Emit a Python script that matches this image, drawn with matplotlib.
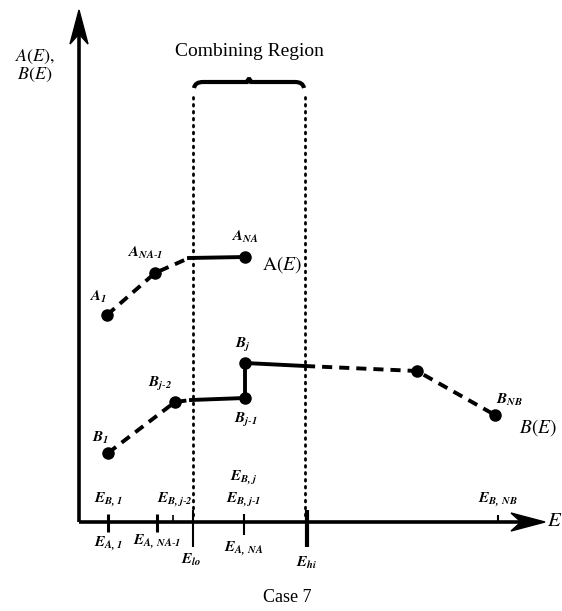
import numpy as np
import matplotlib.pyplot as plt
from matplotlib.path import Path
from matplotlib.patches import PathPatch

plt.rcParams['font.family'] = ['Liberation Serif', 'DejaVu Serif']
plt.rcParams['mathtext.fontset'] = 'stix'

# diagram points, in picture units (x right, y down)
a_dash_x = [107, 155, 189]
a_dash_y = [315, 273, 258]
a_solid_x = [189, 245]
a_solid_y = [258, 257]

b_dash1_x = [108, 175, 191]
b_dash1_y = [453, 402, 400]
b_solid_x = [191, 245, 245, 305]
b_solid_y = [400, 398, 363, 366]
b_dash2_x = [305, 417, 495]
b_dash2_y = [366, 371, 415]

dot_x = [107, 155, 245, 108, 175, 245, 245, 417, 495]
dot_y = [315, 273, 257, 453, 402, 398, 363, 371, 415]

# point labels: text, x, y
point_labels = [
    (r'$\mathbfit{A_{1}}$', 98, 297),
    (r'$\mathbfit{A_{NA\text{-}1}}$', 145, 253),
    (r'$\mathbfit{A_{NA}}$', 245, 237),
    (r'$\mathbfit{B_{1}}$', 101, 438),
    (r'$\mathbfit{B_{j\text{-}2}}$', 160, 384),
    (r'$\mathbfit{B_{j\text{-}1}}$', 246, 420),
    (r'$\mathbfit{B_{j}}$', 243, 345),
    (r'$\mathbfit{B_{NB}}$', 510, 400),
]

# axis ticks: x, top, bottom, width
tick_x = [108, 157, 173, 193, 244, 307, 498]
tick_top = [514, 514, 515, 510, 514, 510, 515]
tick_bot = [532, 532, 522, 547, 535, 547, 522]
tick_w = [2.2, 2.2, 1.2, 1.5, 1.5, 3.0, 1.5]

tick_labels = [
    (r'$\mathbfit{E_{B,1}}$', 108, 500),
    (r'$\mathbfit{E_{A,1}}$', 108, 544),
    (r'$\mathbfit{E_{B,j\text{-}2}}$', 175, 500),
    (r'$\mathbfit{E_{A,\,NA\text{-}1}}$', 157, 542),
    (r'$\mathbfit{E_{lo}}$', 191, 560),
    (r'$\mathbfit{E_{B,j}}$', 244, 478),
    (r'$\mathbfit{E_{B,j\text{-}1}}$', 244, 500),
    (r'$\mathbfit{E_{A,\,NA}}$', 244, 549),
    (r'$\mathbfit{E_{hi}}$', 307, 563),
    (r'$\mathbfit{E_{B,\,NB}}$', 498, 500),
]

region_x = [193, 305]

fig = plt.figure(figsize=(5.62, 6.11), dpi=100)
ax = fig.add_axes([0, 0, 1, 1])
ax.set_xlim(0, 562)
ax.set_ylim(611, 0)
ax.axis('off')

# axes with arrows
ax.plot([79, 79], [522, 30], color='black', lw=2.6, solid_capstyle='butt')
ax.plot([79, 525], [522, 522], color='black', lw=2.6, solid_capstyle='butt')
ax.fill([79, 70, 79, 88], [10, 44, 34, 44], color='black')
ax.fill([545, 511, 521, 511], [522, 513, 522, 531], color='black')
ax.text(547, 522, r'$\mathit{E}$', fontsize=15, ha='left', va='center')
ax.text(35, 48, r'$\mathit{A(E),}$' + '\n' + r'$\mathit{B(E)}$', fontsize=13,
        ha='center', va='top', linespacing=1.0)

# combining region
for x in region_x:
    ax.plot([x, x], [97, 518], color='black', lw=2, linestyle=(0, (0.6, 1.9)),
            dash_capstyle='round')
mid = (region_x[0] + region_x[1]) / 2
verts = [(region_x[0] + 1, 88), (region_x[0] + 2, 82), (region_x[0] + 10, 82),
         (mid - 10, 82), (mid - 2, 82), (mid, 76),
         (mid + 2, 82), (mid + 10, 82), (region_x[1] - 10, 82),
         (region_x[1] - 2, 82), (region_x[1] - 1, 88)]
codes = [Path.MOVETO] + [Path.CURVE3] * 10
ax.add_patch(PathPatch(Path(verts, codes), fill=False, lw=3, color='black'))
ax.text(mid, 52, 'Combining Region', fontsize=14, ha='center', va='center')

# A(E) and B(E)
dash = (0, (2.6, 1.8))
ax.plot(a_dash_x, a_dash_y, color='black', lw=2.8, linestyle=dash)
ax.plot(a_solid_x, a_solid_y, color='black', lw=2.8)
ax.plot(b_dash1_x, b_dash1_y, color='black', lw=2.8, linestyle=dash)
ax.plot(b_solid_x, b_solid_y, color='black', lw=2.8)
ax.plot(b_dash2_x, b_dash2_y, color='black', lw=2.8, linestyle=dash)
ax.plot(dot_x, dot_y, 'o', color='black', markersize=8)

ax.text(262, 265, r'$\mathrm{A}(\mathit{E})$', fontsize=14, ha='left', va='center')
ax.text(519, 428, r'$\mathit{B(E)}$', fontsize=14, ha='left', va='center')

for txt, x, y in point_labels:
    ax.text(x, y, txt, fontsize=11, ha='center', va='center')

for x, t, b, w in zip(tick_x, tick_top, tick_bot, tick_w):
    ax.plot([x, x], [t, b], color='black', lw=w, solid_capstyle='butt')

for txt, x, y in tick_labels:
    ax.text(x, y, txt, fontsize=11, ha='center', va='center')

ax.text(287, 598, 'Case 7', fontsize=13, ha='center', va='center')

fig.savefig('out.png', dpi=100)
